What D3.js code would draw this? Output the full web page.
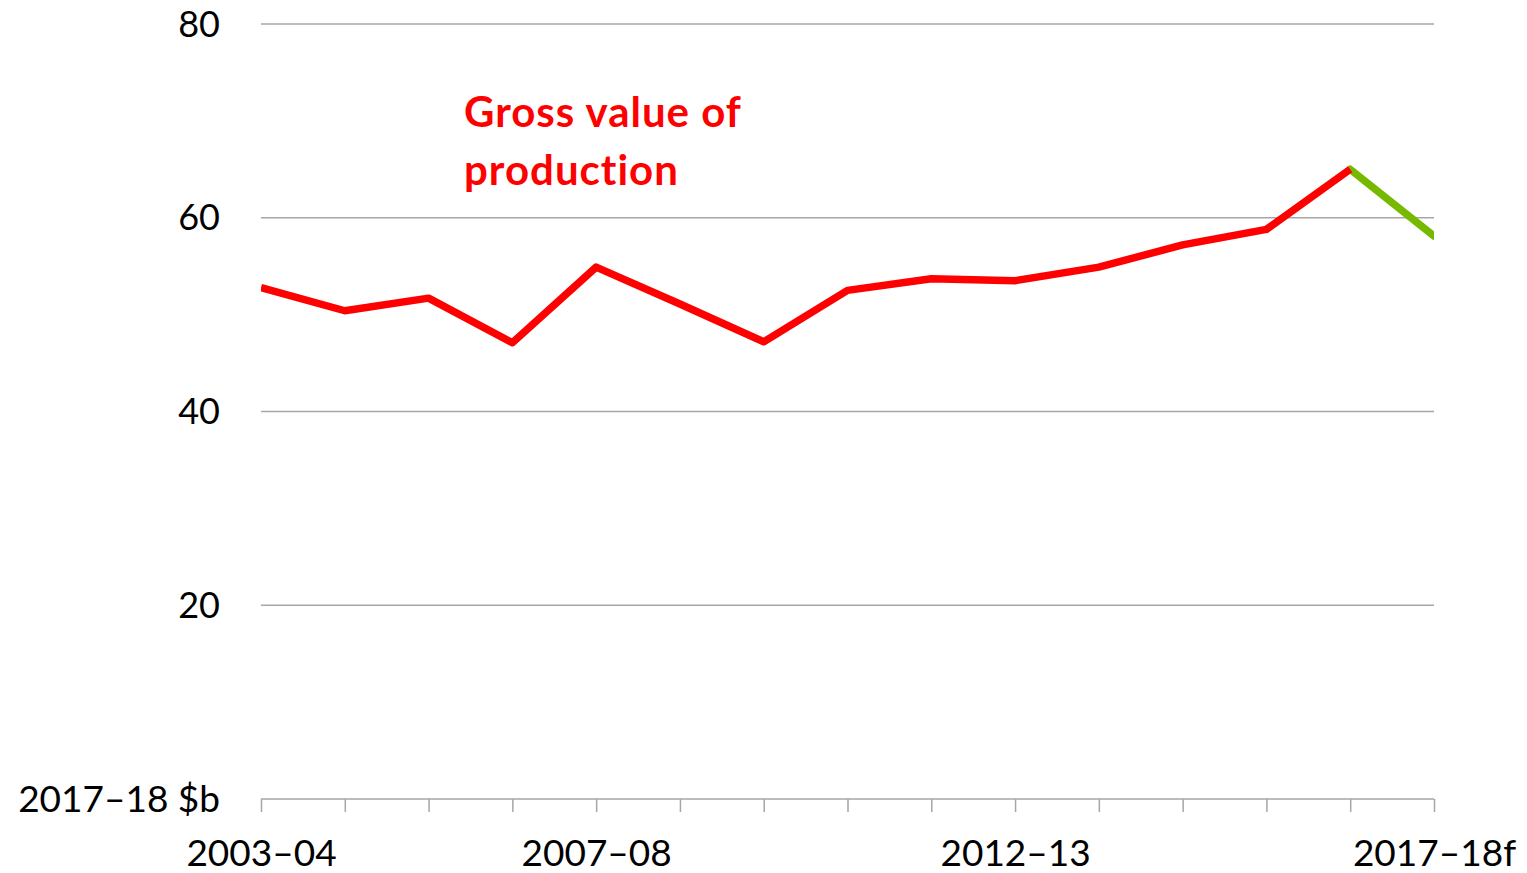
<!DOCTYPE html>
<html><head><meta charset="utf-8">
<script src="https://cdn.jsdelivr.net/npm/d3@7"></script>
<style>body{margin:0;background:#fff;} text{font-family:Lato, "Open Sans", sans-serif;}</style>
</head><body>
<svg id="c" width="1527" height="873"></svg>
<script>
const categories = ["2003–04","2004–05","2005–06","2006–07","2007–08","2008–09","2009–10","2010–11","2011–12","2012–13","2013–14","2014–15","2015–16","2016–17","2017–18f"];
const gvpValues = [52.8,50.4,51.7,47.1,54.9,51.1,47.2,52.5,53.7,53.5,54.9,57.2,58.8,65.0,58.1];
const forecastFrom = 13;
const yTicks = [20,40,60,80];
const xLabelCats = ["2003–04","2007–08","2012–13","2017–18f"];
const unitLabel = "2017–18 $b";
const seriesLabel = ["Gross value of","production"];

const svg = d3.select("#c");
const x = d3.scalePoint().domain(categories).range([261,1434]);
const y = d3.scaleLinear().domain([0,80]).range([799,24]);

svg.append("g").selectAll("line").data(yTicks).join("line")
  .attr("x1",261).attr("x2",1434).attr("y1",d=>y(d)).attr("y2",d=>y(d))
  .attr("stroke","#a6a6a6").attr("stroke-width",1.5);
svg.append("g").selectAll("text").data(yTicks).join("text")
  .attr("x",220).attr("y",d=>y(d)).attr("dy","0.35em").attr("text-anchor","end")
  .attr("font-size",36).attr("fill","#000").text(d=>d);
svg.append("text").attr("x",220).attr("y",y(0)).attr("dy","0.35em").attr("text-anchor","end")
  .attr("font-size",37).attr("fill","#000").text(unitLabel);

const xAxis = d3.axisBottom(x).tickSize(13).tickFormat(d=>xLabelCats.includes(d)?d:"");
const gx = svg.append("g").attr("transform",`translate(0,${y(0)})`).call(xAxis);
gx.select(".domain").attr("stroke","#a6a6a6").attr("stroke-width",1.5).attr("d","M261,0H1434");
gx.selectAll(".tick line").attr("stroke","#a6a6a6").attr("stroke-width",1.5);
gx.selectAll(".tick text").attr("font-size",37).attr("fill","#000").attr("dy",0).attr("y",67)
  .style("font-family","Lato, 'Open Sans', sans-serif");

const pts = categories.map((c,i)=>({c,v:gvpValues[i],i}));
const line = d3.line().x(d=>x(d.c)).y(d=>y(d.v));
svg.append("defs").append("clipPath").attr("id","pc").append("rect")
  .attr("x",261).attr("y",0).attr("width",1434-261).attr("height",873);
svg.append("path").datum(pts.slice(forecastFrom)).attr("d",line)
  .attr("fill","none").attr("stroke","#77b800").attr("stroke-width",7.5).attr("stroke-linecap","round")
  .attr("clip-path","url(#pc)");
svg.append("path").datum(pts.slice(0,forecastFrom+1)).attr("d",line)
  .attr("fill","none").attr("stroke","#ff0000").attr("stroke-width",7.5).attr("stroke-linejoin","round")
  .attr("clip-path","url(#pc)");

svg.append("text").attr("x",464).attr("font-size",42).attr("font-weight","bold").attr("fill","#ff0000")
  .attr("letter-spacing",1)
  .selectAll("tspan").data(seriesLabel).join("tspan").attr("x",464).attr("y",(d,i)=>127+i*58).text(d=>d);
</script>
</body></html>
